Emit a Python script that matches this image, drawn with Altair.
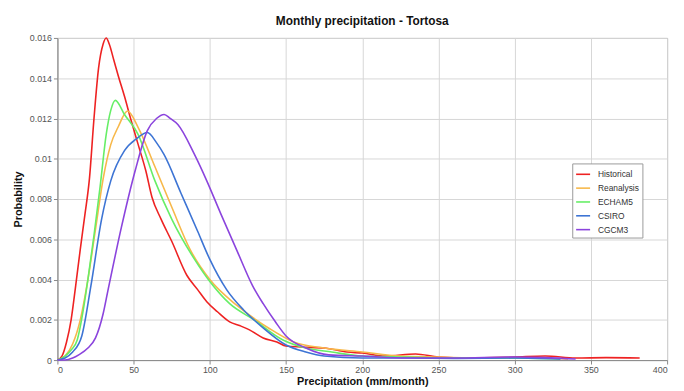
import altair as alt
import pandas as pd

series = ["Historical", "Reanalysis", "ECHAM5", "CSIRO", "CGCM3"]
colors = ["#ee2222", "#f7b84a", "#66ee66", "#3d74d4", "#8b44dd"]

hist_x = [0, 3, 6, 9, 12, 15, 18, 21, 24, 27, 30, 32, 34, 37, 40, 44, 48, 53, 58, 62, 68, 75, 85, 92, 98, 105, 113, 120, 126, 135, 144, 150, 160, 175, 190, 200, 215, 235, 250, 270, 300, 320, 340, 360, 382]
hist_y = [0, 0.0002, 0.0009, 0.002, 0.0037, 0.0055, 0.0072, 0.009, 0.012, 0.0145, 0.0157, 0.016, 0.0157, 0.0149, 0.0141, 0.0131, 0.0120, 0.0107, 0.0094, 0.0081, 0.0070, 0.0059, 0.0042, 0.0035, 0.0029, 0.0024, 0.0019, 0.0017, 0.0015, 0.0011, 0.0009, 0.0007, 0.00065, 0.0006, 0.0004, 0.00035, 0.0002, 0.0003, 0.00015, 0.0001, 0.00015, 0.0002, 0.0001, 0.00012, 0.0001]

rean_x = [0, 5, 10, 15, 20, 25, 30, 35, 40, 46, 53, 64, 75, 87, 100, 118, 139, 155, 175, 200, 225, 250, 280, 310, 335]
rean_y = [0, 0.0002, 0.0008, 0.002, 0.004, 0.0065, 0.009, 0.0107, 0.0116, 0.01237, 0.01155, 0.0096, 0.0076, 0.0055, 0.004, 0.0027, 0.00157, 0.0009, 0.0006, 0.0004, 0.0002, 0.00015, 0.0001, 0.0001, 0.00005]

echam_x = [0, 5, 9, 13, 17, 20, 24, 28, 32, 35, 38, 44, 53, 64, 75, 90, 100, 113, 129, 148, 163, 180, 200, 230, 260, 300, 330]
echam_y = [0, 0.0002, 0.0005, 0.001, 0.0025, 0.004, 0.0062, 0.0086, 0.0112, 0.0124, 0.0129, 0.0122, 0.0112, 0.0089, 0.007, 0.005, 0.0039, 0.0028, 0.0020, 0.0010, 0.0006, 0.0004, 0.0002, 0.00015, 0.0001, 0.0001, 0.00005]

csiro_x = [0, 5, 10, 16, 22, 29, 35, 44, 52, 59, 65, 70, 81, 92, 100, 111, 122, 135, 150, 163, 175, 200, 230, 260, 300, 330]
csiro_y = [0, 0.0001, 0.0004, 0.0012, 0.0037, 0.007, 0.0089, 0.0104, 0.011, 0.0113, 0.0108, 0.0102, 0.0083, 0.0064, 0.005, 0.0035, 0.0025, 0.0016, 0.00075, 0.0004, 0.0002, 0.0001, 0.0001, 0.00008, 0.0001, 0.00005]

cgcm_x = [0, 5, 10, 14, 20, 25, 30, 33, 42, 51, 59, 65, 70, 74, 79, 90, 98, 107, 118, 128, 135, 143, 150, 163, 178, 200, 230, 260, 300, 320, 340]
cgcm_y = [0, 0, 0.0001, 0.00026, 0.0006, 0.0011, 0.0023, 0.0034, 0.0066, 0.0094, 0.0114, 0.012, 0.0122, 0.012, 0.0117, 0.0102, 0.0089, 0.0073, 0.0054, 0.0037, 0.0028, 0.0019, 0.0012, 0.0006, 0.00026, 0.0002, 0.0001, 0.0001, 0.00015, 0.00012, 0.00005]

xs = [hist_x, rean_x, echam_x, csiro_x, cgcm_x]
ys = [hist_y, rean_y, echam_y, csiro_y, cgcm_y]

rows = []
for i, (name, xv, yv) in enumerate(zip(series, xs, ys)):
    for a, b in zip(xv, yv):
        rows.append({"series": name, "order": i, "x": a, "y": b})
df = pd.DataFrame(rows)

x_ticks = [0, 50, 100, 150, 200, 250, 300, 350, 400]
y_ticks = [0, 0.002, 0.004, 0.006, 0.008, 0.01, 0.012, 0.014, 0.016]

font = "Liberation Sans"

chart = alt.Chart(df).mark_line(strokeWidth=1.6, interpolate="monotone").encode(
    x=alt.X("x:Q", scale=alt.Scale(domain=[0, 400], nice=False),
            axis=alt.Axis(values=x_ticks, title="Precipitation (mm/month)", grid=True,
                          tickSize=4, labelFontSize=9, titleFontSize=11, titleFontWeight="bold",
                          labelColor="#555", titleColor="#111", titlePadding=1, labelPadding=2,
                          domainColor="#888", tickColor="#888", gridColor="#d6d6d6")),
    y=alt.Y("y:Q", scale=alt.Scale(domain=[0, 0.016], nice=False),
            axis=alt.Axis(values=y_ticks, format="~g", title="Probability", grid=True,
                          tickSize=4, labelFontSize=9, titleFontSize=11, titleFontWeight="bold",
                          labelColor="#555", titleColor="#111", titlePadding=6, labelPadding=2,
                          domainColor="#888", tickColor="#888", gridColor="#d6d6d6")),
    color=alt.Color("series:N", scale=alt.Scale(domain=series, range=colors),
                    legend=alt.Legend(title=None, orient="none", legendX=521, legendY=127,
                                      symbolType="stroke", symbolSize=200, symbolStrokeWidth=1.6,
                                      labelFontSize=8.5, labelColor="#333", rowPadding=1,
                                      labelOffset=7,
                                      strokeColor="#999", fillColor="white", padding=3,
                                      labelFont=font)),
    order=alt.Order("order:Q"),
    detail="series:N",
).properties(
    width=617, height=326,
    title=alt.TitleParams("Monthly precipitation - Tortosa", fontSize=12, fontWeight="bold",
                          font=font, color="#111", offset=6),
    autosize=alt.AutoSizeParams(type="none"),
    padding={"left": 50, "top": 28, "right": 9, "bottom": 29},
).configure(font=font).configure_view(stroke="#999")

chart.save("out.html", embed_options={"renderer": "svg", "actions": False})
